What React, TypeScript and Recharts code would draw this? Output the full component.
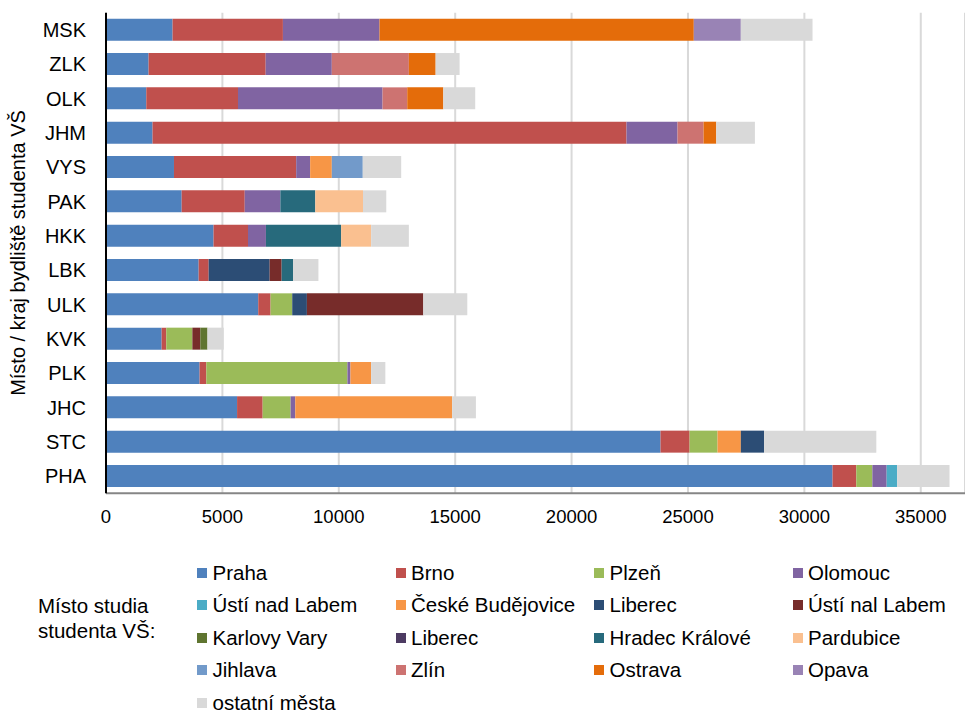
import React from "react";
import { BarChart, Bar, XAxis, YAxis, CartesianGrid } from "recharts";

// Regions of residence (top to bottom)
const regions = ["MSK", "ZLK", "OLK", "JHM", "VYS", "PAK", "HKK", "LBK", "ULK", "KVK", "PLK", "JHC", "STC", "PHA"];

// Number of students by place of study (same order as regions)
const praha = [2860, 1830, 1730, 2000, 2920, 3250, 4620, 3980, 6540, 2390, 4020, 5630, 23820, 31210];
const brno = [4740, 5030, 3940, 20360, 5250, 2710, 1480, 430, 530, 200, 290, 1100, 1250, 1020];
const plzen = [0, 0, 0, 0, 0, 0, 0, 0, 930, 1120, 6060, 1200, 1200, 690];
const olomouc = [4150, 2840, 6210, 2190, 600, 1530, 770, 0, 0, 0, 130, 200, 0, 615];
const ustiNadLabem = [0, 0, 0, 0, 0, 0, 0, 0, 0, 0, 0, 0, 0, 450];
const ceskeBudejovice = [0, 0, 0, 0, 930, 0, 0, 0, 0, 0, 890, 6740, 1000, 0];
const liberec = [0, 0, 0, 0, 0, 0, 0, 2620, 630, 0, 0, 0, 1000, 0];
const ustiNalLabem = [0, 0, 0, 0, 0, 0, 0, 515, 5000, 340, 0, 0, 0, 0];
const karlovyVary = [0, 0, 0, 0, 0, 0, 0, 0, 0, 310, 0, 0, 0, 0];
const liberec2 = [0, 0, 0, 0, 0, 0, 0, 0, 0, 0, 0, 0, 0, 0];
const hradecKralove = [0, 0, 0, 0, 0, 1500, 3230, 490, 0, 0, 0, 0, 0, 0];
const pardubice = [0, 0, 0, 0, 0, 2050, 1290, 0, 0, 0, 0, 0, 0, 0];
const jihlava = [0, 0, 0, 0, 1330, 0, 0, 0, 0, 0, 0, 0, 0, 0];
const zlin = [0, 3310, 1060, 1120, 0, 0, 0, 0, 0, 0, 0, 0, 0, 0];
const ostrava = [13500, 1150, 1550, 545, 0, 0, 0, 0, 0, 0, 0, 0, 0, 0];
const opava = [2020, 0, 0, 0, 0, 0, 0, 0, 0, 0, 0, 0, 0, 0];
const ostatni = [3080, 1030, 1370, 1660, 1650, 1000, 1620, 1090, 1890, 700, 610, 1020, 4820, 2250];

const xTicks = [0, 5000, 10000, 15000, 20000, 25000, 30000, 35000];

const seriesNames = [
  "Praha", "Brno", "Plzeň", "Olomouc",
  "Ústí nad Labem", "České Budějovice", "Liberec", "Ústí nal Labem",
  "Karlovy Vary", "Liberec", "Hradec Králové", "Pardubice",
  "Jihlava", "Zlín", "Ostrava", "Opava",
  "ostatní města",
];
const seriesValues = [
  praha, brno, plzen, olomouc,
  ustiNadLabem, ceskeBudejovice, liberec, ustiNalLabem,
  karlovyVary, liberec2, hradecKralove, pardubice,
  jihlava, zlin, ostrava, opava,
  ostatni,
];
const seriesColors = [
  "#4F81BD", "#C0504D", "#9BBB59", "#8064A2",
  "#4BACC6", "#F79646", "#2C4D75", "#772C2A",
  "#5F7530", "#4D3B62", "#276A7C", "#FAC090",
  "#729ACA", "#CD7371", "#E46C0A", "#9983B5",
  "#D9D9D9",
];

const data = regions.map((r, i) => {
  const row: Record<string, string | number> = { region: r };
  seriesValues.forEach((vals, s) => {
    row["s" + s] = vals[i];
  });
  return row;
});

const FONT = '"Liberation Sans", Arial, sans-serif';

export default function App() {
  return (
    <div style={{ position: "absolute", left: 0, top: 0, width: 965, height: 711, background: "#fff", fontFamily: FONT, overflow: "hidden" }}>
      <BarChart
        width={965}
        height={711}
        data={data}
        layout="vertical"
        margin={{ top: 12.7, right: 0, left: 0, bottom: 187.7 }}
        barSize={22}
      >
        <CartesianGrid horizontal={false} vertical stroke="#D9D9D9" strokeWidth={2} />
        <XAxis
          type="number"
          domain={[0, 36900]}
          ticks={xTicks}
          allowDataOverflow
          height={30}
          tickSize={0}
          tickMargin={17}
          axisLine={{ stroke: "#868686", strokeWidth: 2 }}
          tickLine={false}
          tick={{ fill: "#000", fontSize: 18.5, fontFamily: FONT }}
        />
        <XAxis
          xAxisId="top"
          orientation="top"
          type="number"
          domain={[0, 36900]}
          height={0}
          tick={false}
          tickLine={false}
          axisLine={{ stroke: "#808080", strokeWidth: 1.5 }}
        />
        <YAxis
          type="category"
          dataKey="region"
          width={106}
          tickSize={0}
          tickMargin={20}
          axisLine={{ stroke: "#000", strokeWidth: 2 }}
          tickLine={false}
          tick={{ fill: "#000", fontSize: 20, fontFamily: FONT }}
          label={{
            value: "Místo / kraj bydliště studenta VŠ",
            angle: -90,
            position: "insideLeft",
            offset: 18,
            style: { textAnchor: "middle", fill: "#000", fontSize: 20, fontFamily: FONT },
          }}
        />
        {seriesNames.map((name, s) => (
          <Bar
            key={"s" + s}
            dataKey={"s" + s}
            name={name}
            stackId="a"
            fill={seriesColors[s]}
            isAnimationActive={false}
          />
        ))}
      </BarChart>
      <div
        style={{
          position: "absolute",
          left: 38,
          top: 593,
          fontSize: 20.5,
          lineHeight: "25px",
          color: "#000",
        }}
      >
        Místo studia
        <br />
        studenta VŠ:
      </div>
      <div
        style={{
          position: "absolute",
          left: 197,
          top: 556.5,
          display: "grid",
          gridTemplateColumns: "198.5px 198.5px 198.5px 198.5px",
          gridAutoRows: "32.5px",
          fontSize: 20.5,
          color: "#000",
        }}
      >
        {seriesNames.map((name, s) => (
          <div key={"l" + s} style={{ display: "flex", alignItems: "center", whiteSpace: "nowrap" }}>
            <span style={{ display: "inline-block", width: 10, height: 10, background: seriesColors[s], marginRight: 5.5 }} />
            <span>{name}</span>
          </div>
        ))}
      </div>
    </div>
  );
}
